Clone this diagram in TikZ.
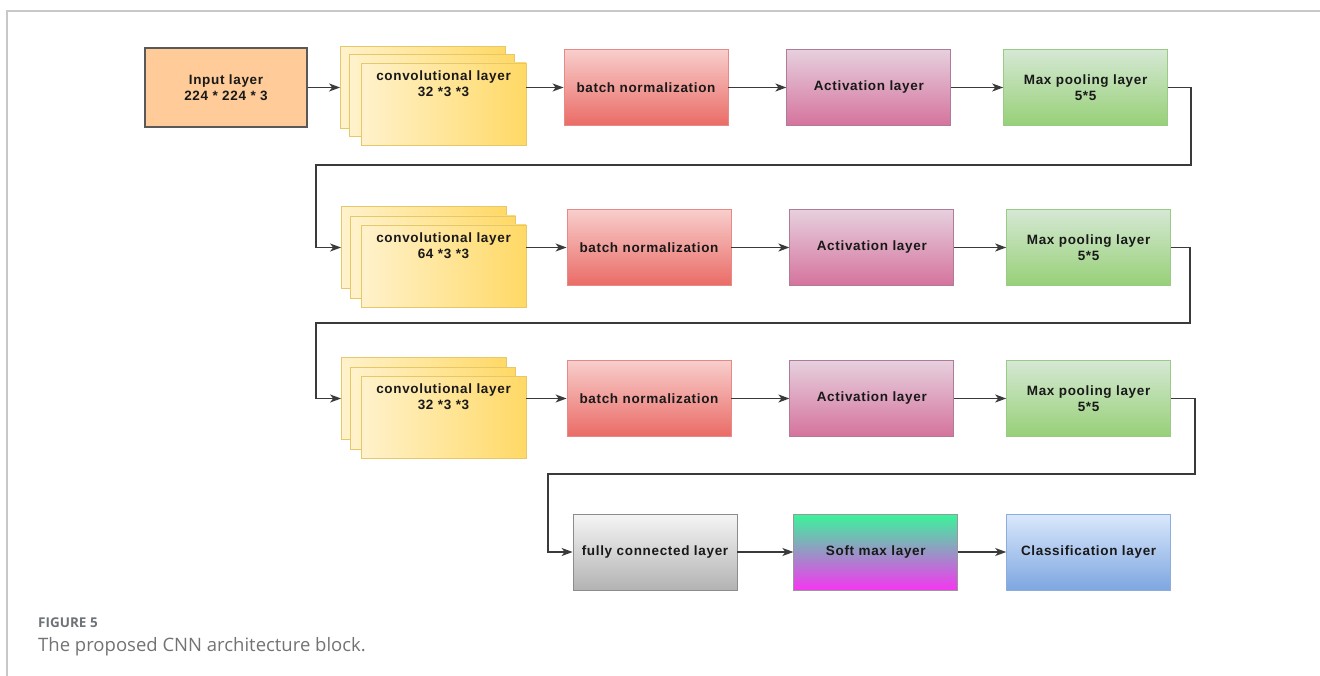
\documentclass[tikz,border=0pt]{standalone}
\usepackage{fontspec}
\setmainfont{Liberation Sans}
\newfontfamily\boxfont[LetterSpace=5]{Liberation Sans}
\newfontfamily\capfont{Open Sans}
\usetikzlibrary{arrows.meta,positioning}
\definecolor{inputfill}{HTML}{FFCC99}
\definecolor{convlight}{HTML}{FFF2CC}
\definecolor{convdark}{HTML}{FFD966}
\definecolor{convline}{HTML}{E6C868}
\definecolor{bntop}{HTML}{F8CECC}
\definecolor{bnbot}{HTML}{EA6B66}
\definecolor{bnline}{HTML}{E58A86}
\definecolor{acttop}{HTML}{E6D0DE}
\definecolor{actbot}{HTML}{D5739D}
\definecolor{actline}{HTML}{B07A9A}
\definecolor{mptop}{HTML}{D5E8D4}
\definecolor{mpbot}{HTML}{97D077}
\definecolor{mpline}{HTML}{9ACB85}
\definecolor{fctop}{HTML}{F5F5F5}
\definecolor{fcbot}{HTML}{B3B3B3}
\definecolor{smtop}{HTML}{3AF59A}
\definecolor{smbot}{HTML}{F536F0}
\definecolor{cltop}{HTML}{DAE8FC}
\definecolor{clbot}{HTML}{7EA6E0}
\definecolor{clline}{HTML}{8DAEDC}
\definecolor{wire}{HTML}{3A3A3A}
\definecolor{framegray}{HTML}{C8C8C8}
\definecolor{capgray}{HTML}{6E7378}
\tikzset{
  % arrow tip
  >={Stealth[length=11pt,width=8pt,inset=3pt]},
  % boxes
  layer/.style={
    rectangle,
    minimum width=164pt,
    minimum height=76pt,
    inner sep=0pt,
    line width=0.8pt,
    align=center,
    text=black!90,
    font=\boxfont\bfseries\fontsize{13.5}{15.5}\selectfont},
  inlayer/.style={layer, draw=black!65, line width=1.4pt, fill=inputfill,
    minimum width=162pt, minimum height=79pt},
  convlayer/.style={layer, draw=convline, left color=convlight, right color=convdark,
    minimum width=165pt, minimum height=82pt},
  bnlayer/.style={layer, draw=bnline, top color=bntop, bottom color=bnbot},
  actlayer/.style={layer, draw=actline, top color=acttop, bottom color=actbot},
  mplayer/.style={layer, draw=mpline, top color=mptop, bottom color=mpbot},
  fclayer/.style={layer, draw=black!45, top color=fctop, bottom color=fcbot},
  smlayer/.style={layer, draw=black!40, top color=smtop, bottom color=smbot},
  cllayer/.style={layer, draw=clline, top color=cltop, bottom color=clbot},
  convtext/.style={anchor=north, yshift=-8pt, inner sep=0pt, align=center,
    text=black!90, font=\boxfont\bfseries\fontsize{13.5}{15.5}\selectfont},
  % arrows
  pil/.style={->, draw=wire, line width=1.3pt},
  frame/.style={draw=framegray, line width=1.3pt}
}

\begin{document}
\begin{tikzpicture}[x=1pt,y=-1pt]
  \useasboundingbox (0,0) rectangle (1320,676);
  \draw[frame] (1320,11) -- (7,11) -- (7,676);

  % row 1
  \node[inlayer] (input) at (226,87.5) {Input layer\\224 * 224 * 3};
  \node[convlayer] (conv1c) at (423,87.5) {};
  \node[convlayer] (conv1b) at (432,95.5) {};
  \node[convlayer, label={[convtext]north:convolutional layer\\32 *3 *3}] (conv1) at (443.5,104) {};
  \node[bnlayer] (bn1) at (646,87.5) {batch normalization};
  \node[actlayer, right=58pt of bn1] (act1) {Activation layer};
  \node[mplayer, right=52pt of act1] (mp1) {Max pooling layer\\5*5};

  % row 2
  \node[convlayer] (conv2c) at (424,247.5) {};
  \node[convlayer] (conv2b) at (433,257) {};
  \node[convlayer, label={[convtext]north:convolutional layer\\64 *3 *3}] (conv2) at (443.5,266) {};
  \node[bnlayer] (bn2) at (649,247.5) {batch normalization};
  \node[actlayer, right=58pt of bn2] (act2) {Activation layer};
  \node[mplayer, right=52pt of act2] (mp2) {Max pooling layer\\5*5};

  % row 3
  \node[convlayer] (conv3c) at (424,398.5) {};
  \node[convlayer] (conv3b) at (433,408) {};
  \node[convlayer, label={[convtext]north:convolutional layer\\32 *3 *3}] (conv3) at (443.5,417) {};
  \node[bnlayer] (bn3) at (649,398.5) {batch normalization};
  \node[actlayer, right=58pt of bn3] (act3) {Activation layer};
  \node[mplayer, right=52pt of act3] (mp3) {Max pooling layer\\5*5};

  % row 4
  \node[fclayer] (fc) at (655,552) {fully connected layer};
  \node[smlayer, right=56pt of fc] (sm) {Soft max layer};
  \node[cllayer, right=48pt of sm] (cl) {Classification layer};

  % turning points
  \coordinate (r1a) at (1191,165);
  \coordinate (r1b) at (316,165);
  \coordinate (r2a) at (1190,323);
  \coordinate (r2b) at (316,323);
  \coordinate (r3a) at (1195,474);
  \coordinate (r3b) at (548,474);

  \draw[pil] (input.east) -- (conv1c.west);
  \draw[pil] (conv1.east |- bn1.west) -- (bn1.west);
  \draw[pil] (bn1) -- (act1);
  \draw[pil] (act1) -- (mp1);
  \draw[pil] (mp1.east) -| (r1a) -- (r1b) |- (conv2c.west);

  \draw[pil] (conv2.east |- bn2.west) -- (bn2.west);
  \draw[pil] (bn2) -- (act2);
  \draw[pil] (act2) -- (mp2);
  \draw[pil] (mp2.east) -| (r2a) -- (r2b) |- (conv3c.west);

  \draw[pil] (conv3.east |- bn3.west) -- (bn3.west);
  \draw[pil] (bn3) -- (act3);
  \draw[pil] (act3) -- (mp3);
  \draw[pil] (mp3.east) -| (r3a) -- (r3b) |- (fc.west);

  \draw[pil] (fc) -- (sm);
  \draw[pil] (sm) -- (cl);

  % caption
  \node[anchor=base west, inner sep=0pt, text=capgray, font=\capfont\bfseries\fontsize{13.5}{15}\selectfont] (fignum) at (38,627) {FIGURE 5};
  \node[anchor=base west, inner sep=0pt, text=black!55, font=\capfont\fontsize{18.5}{22}\selectfont] (figcap) at (38,651) {The proposed CNN architecture block.};
\end{tikzpicture}
\end{document}
